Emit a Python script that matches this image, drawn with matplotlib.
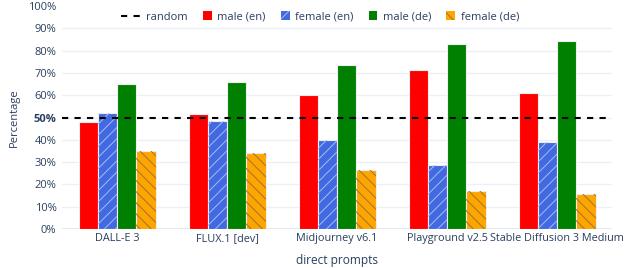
import matplotlib.pyplot as plt
import numpy as np
from matplotlib.patches import Patch, Rectangle
from matplotlib.lines import Line2D
from matplotlib.legend_handler import HandlerPatch

models = ['DALL-E 3', 'FLUX.1 [dev]', 'Midjourney v6.1', 'Playground v2.5', 'Stable Diffusion 3 Medium']
male_en = [48.0, 51.4, 60.1, 71.4, 61.2]
female_en = [52.0, 48.6, 39.9, 28.6, 38.8]
male_de = [65.2, 65.9, 73.5, 83.0, 84.5]
female_de = [34.8, 34.1, 26.5, 17.0, 15.5]
random_level = 50

txt = '#2a3f5f'
grid = '#ebf0f8'
plt.rcParams['font.family'] = ['Open Sans', 'DejaVu Sans']
plt.rcParams['hatch.linewidth'] = 0.7
fs = 8.0

fig = plt.figure(figsize=(6.34, 2.68), dpi=100)
ax = fig.add_axes([62/634, 39/268, 550/634, 223/268])

x = np.arange(len(models))
w = 0.175
series = [
    (male_en, 'red', None, None),
    (female_en, '#4169e1', '///', '#a9bcf2'),
    (male_de, 'green', None, None),
    (female_de, 'orange', '\\\\\\', '#9a7536'),
]
for i, (vals, col, hatch, hcol) in enumerate(series):
    pos = x + (i - 1.5) * w
    ax.bar(pos, vals, w, color=col, edgecolor='#eeeeee', linewidth=0.8, zorder=2)
    if hatch:
        ax.bar(pos, vals, w, fill=False, hatch=hatch, edgecolor=hcol, linewidth=0, zorder=3)

ax.axhline(random_level, color='black', lw=1.5, dashes=(3, 3), zorder=4)
ax.axhline(0, color='#e3e9f2', lw=1.5, zorder=1)

ax.set_xlim(-0.5, len(models) - 0.5)
ax.set_ylim(0, 100)
ax.set_xticks(x)
ax.set_xticklabels(models)
yt = np.arange(0, 101, 10)
ax.set_yticks(yt)
ax.set_yticklabels([f'{v}%' for v in yt])
for lab in ax.get_yticklabels():
    if lab.get_text() == '50%':
        lab.set_fontweight('bold')
ax.tick_params(length=0, labelsize=fs, labelcolor=txt, pad=4)
ax.tick_params(axis='x', pad=3, labelsize=7.8)
for v in yt[1:-1]:
    ax.axhline(v, color=grid, lw=1, zorder=0)
for s in ax.spines.values():
    s.set_visible(False)

ax.set_ylabel('Percentage', fontsize=fs, color=txt, labelpad=6)
ax.set_xlabel('direct prompts', fontsize=8.6, color=txt, labelpad=7)


def square(legend, orig_handle, xdescent, ydescent, width, height, fontsize):
    s = 0.8 * fontsize
    return Rectangle((width - s - xdescent, -ydescent + (height - s) / 2), s, s)


handles = [
    Line2D([], [], color='black', lw=1.5, dashes=(3, 3)),
    Patch(facecolor='red', edgecolor='none'),
    Patch(facecolor='#4169e1', edgecolor='#a9bcf2', hatch='///', linewidth=0),
    Patch(facecolor='green', edgecolor='none'),
    Patch(facecolor='orange', edgecolor='#9a7536', hatch='\\\\\\', linewidth=0),
]
labels = ['random', 'male (en)', 'female (en)', 'male (de)', 'female (de)']
leg = fig.legend(handles, labels, ncol=5, loc='center', bbox_to_anchor=(320/634, 1 - 17/268),
                 frameon=True, facecolor='white', edgecolor='none', framealpha=1,
                 fontsize=fs, handlelength=1.8, handletextpad=0.5, columnspacing=0.35,
                 borderpad=0.3, fancybox=False,
                 handler_map={Patch: HandlerPatch(patch_func=square)})
for t in leg.get_texts():
    t.set_color(txt)

fig.savefig('out.png', dpi=100)
